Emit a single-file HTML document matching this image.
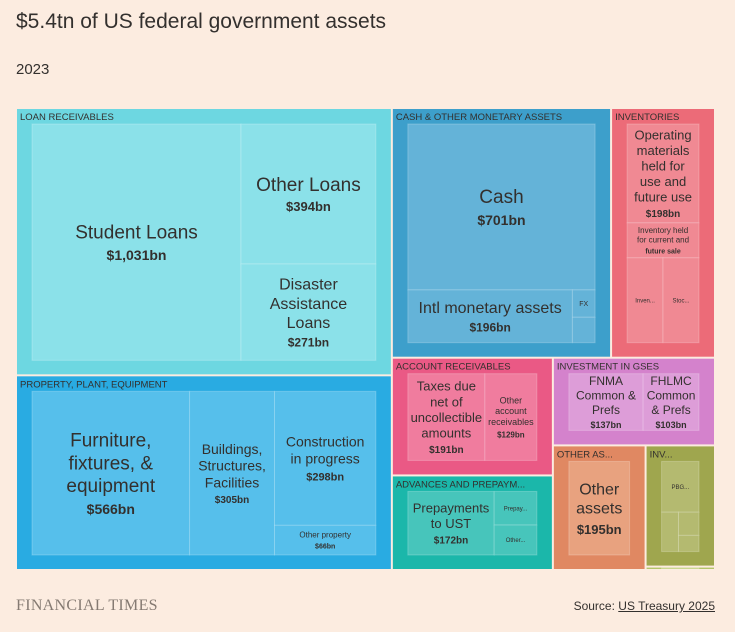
<!DOCTYPE html>
<html><head><meta charset="utf-8">
<style>
html,body{margin:0;padding:0;background:#fcece0;width:735px;height:632px;overflow:hidden;font-family:"Liberation Sans",sans-serif;color:#33302e}
#title{position:absolute;left:16px;top:10px;font-size:21px;}
#sub{position:absolute;left:16px;top:61px;font-size:15px;}
#ft{position:absolute;left:16px;top:597px;font-family:"Liberation Serif",serif;font-size:16px;color:#857a72;letter-spacing:0.3px}
#src{position:absolute;right:20px;top:599px;font-size:12px}
#src span{text-decoration:underline}
svg{position:absolute;left:0;top:0}
</style></head><body>
<div id="title">$5.4tn of US federal government assets</div>
<div id="sub">2023</div>
<svg id="chart" width="735" height="632"></svg>
<div id="ft">FINANCIAL TIMES</div>
<div id="src">Source: <span>US Treasury 2025</span></div>
<script>
// groups
const groupNames = ["LOAN RECEIVABLES","PROPERTY, PLANT, EQUIPMENT","CASH & OTHER MONETARY ASSETS","INVENTORIES","ACCOUNT RECEIVABLES","ADVANCES AND PREPAYM...","INVESTMENT IN GSES","OTHER AS...","INV...",""];
const groupColors = ["#6dd7e1","#29abe2","#3d9fcb","#ec6b78","#ea5985","#1bb7aa","#d482cc","#e08862","#9fa64e","#b3c46a"];
const innerColors = ["#8be1e9","#56bfeb","#64b3d8","#f08993","#f07c9e","#47c5bb","#dd9dd8","#e8a27f","#b4ba70","#c3d07f"];
// leaves
const leafLabels = ["Student Loans","Other Loans","Disaster\nAssistance\nLoans",
 "Furniture,\nfixtures, &\nequipment","Buildings,\nStructures,\nFacilities","Construction\nin progress","Other property",
 "Cash","Intl monetary assets","FX","",
 "Operating\nmaterials\nheld for\nuse and\nfuture use","Inventory held\nfor current and","Inven...","Stoc...",
 "Taxes due\nnet of\nuncollectible\namounts","Other\naccount\nreceivables",
 "Prepayments\nto UST","Prepay...","Other...",
 "FNMA\nCommon &\nPrefs","FHLMC\nCommon\n& Prefs",
 "Other\nassets",
 "PBG...","","","",
 ""];
const leafValues = [1031,394,271, 566,305,298,66, 701,196,14,13, 198,70,85,85, 191,129, 172,45,40, 137,103, 195, 80,28,20,14, 4];
const leafValueText = ["$1,031bn","$394bn","$271bn","$566bn","$305bn","$298bn","$66bn","$701bn","$196bn","","","$198bn","future sale","","","$191bn","$129bn","$172bn","","","$137bn","$103bn","$195bn","","","","",""];
const labelSize = [19,19,16,19,14,14,8,19,16,7,0,13,8,6,6,13,9,13,6,6,12,12,16,6,0,0,0,0];
const valueSize = [14,13,12,14,10,11,7,14,12,0,0,10,7,0,0,10,8,10,0,0,9,9,13,0,0,0,0,0];

const L=i=>({leaf:i}), S=(dir,kids)=>({dir,kids}), G=(g,dir,kids)=>({g,dir,kids});
const tree = S('h',[
  S('v',[ G(0,'h',[L(0),S('v',[L(1),L(2)])]), G(1,'h',[L(3),L(4),S('v',[L(5),L(6)])]) ]),
  S('v',[
    S('h',[ G(2,'v',[L(7),S('h',[L(8),S('v',[L(9),L(10)])])]), G(3,'v',[L(11),L(12),S('h',[L(13),L(14)])]) ]),
    S('h',[
      S('v',[ G(4,'h',[L(15),L(16)]), G(5,'h',[L(17),S('v',[L(18),L(19)])]) ]),
      S('v',[ G(6,'h',[L(20),L(21)]), S('h',[ G(7,'h',[L(22)]), S('v',[ G(8,'v',[L(23),S('h',[L(24),S('v',[L(25),L(26)])])]), G(9,'h',[L(27)]) ]) ]) ])
    ])
  ])
]);
const svg=document.getElementById('chart');
const NS="http://www.w3.org/2000/svg";
function sum(n){return n.leaf!=null?leafValues[n.leaf]:n.kids.reduce((a,k)=>a+sum(k),0);}
function el(t,a){const e=document.createElementNS(NS,t);for(const k in a)e.setAttribute(k,a[k]);svg.appendChild(e);return e;}
function slug(s){return s.toLowerCase().replace(/[^a-z0-9]+/g,'-').replace(/^-|-$/g,'')||'unlabeled';}
function split(n,x,y,w,h,g){
  const tot=sum(n);let off=0;
  n.kids.forEach(k=>{const f=sum(k)/tot;
    if(n.dir==='h'){const kw=w*f;lay(k,x+off,y,kw,h,g);off+=kw;}
    else{const kh=h*f;lay(k,x,y+off,w,kh,g);off+=kh;}});
}
function lay(n,x,y,w,h,g){
  if(n.g!=null){
    const r=el('rect',{x:x+1,y:y+1,width:Math.max(0,w-2),height:Math.max(0,h-2),fill:groupColors[n.g]});
    
    
    if(groupNames[n.g]){const t=el('text',{x:x+4,y:y+12,'font-size':9.5,fill:'#33302e'});t.textContent=groupNames[n.g];
      }
    const pt=h>20?16:1,pb=h>20?15:1,ps=w>40?16:1;
    split(n,x+ps,y+pt,w-2*ps,h-pt-pb,n.g);return;
  }
  if(n.kids){split(n,x,y,w,h,g);return;}
  const i=n.leaf;
  const r=el('rect',{x:x,y:y,width:w,height:h,fill:innerColors[g],stroke:'rgba(255,255,255,0.22)','stroke-width':1});
  
  
  const lines=leafLabels[i]?leafLabels[i].split('\n'):[];
  const ls=labelSize[i],vs=valueSize[i];
  if(!lines.length||!ls)return;
  const lh=ls*1.2;const totH=lines.length*lh+(leafValueText[i]?vs*1.5:0);
  let cy=y+h/2-totH/2+ls*0.95;
  const t=el('text',{x:x+w/2,y:cy,'font-size':ls,'text-anchor':'middle',fill:'#33302e'});
  
  lines.forEach((ln,j)=>{const s=document.createElementNS(NS,'tspan');s.setAttribute('x',x+w/2);s.setAttribute('dy',j?lh:0);s.textContent=ln;t.appendChild(s);});
  if(leafValueText[i]){
    const v=el('text',{x:x+w/2,y:cy+(lines.length-1)*lh+vs*1.55,'font-size':vs,'font-weight':'bold','text-anchor':'middle',fill:'#33302e'});
    v.textContent=leafValueText[i];
    
  }
}
lay(tree,16,108,699,462,null);
</script>
</body></html>
